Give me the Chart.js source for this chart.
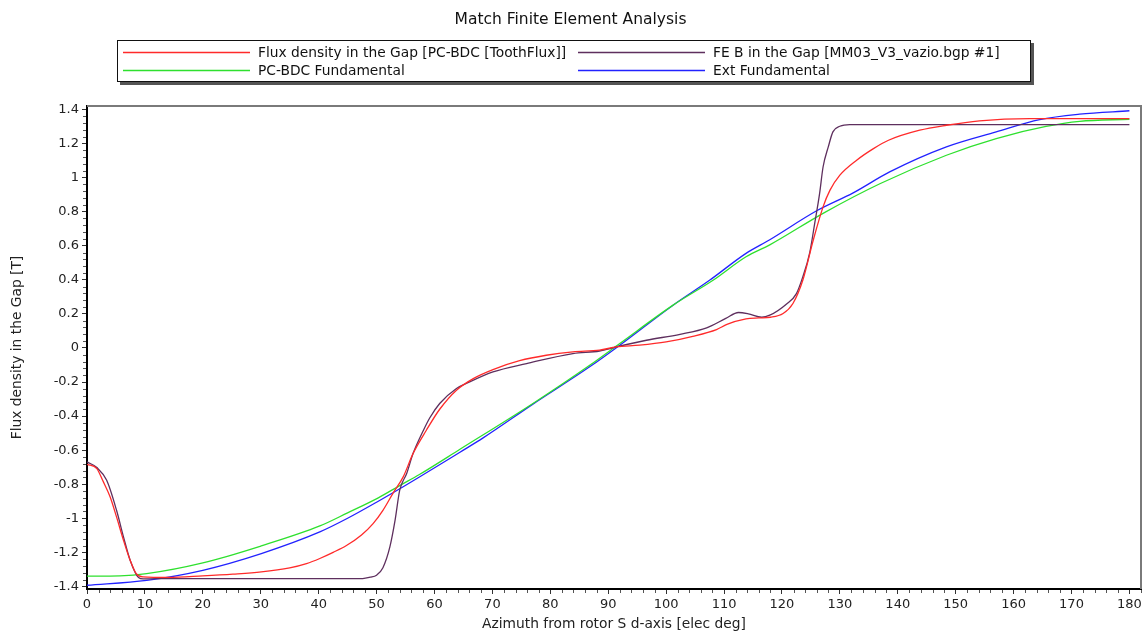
<!DOCTYPE html>
<html>
<head>
<meta charset="utf-8">
<title>Match Finite Element Analysis</title>
<script src="https://cdn.jsdelivr.net/npm/chart.js@4.4.1/dist/chart.umd.min.js"></script>
<style>
    html, body { margin: 0; padding: 0; background: #fff; }
    #fluxChart { display: block; }
</style>
</head>
<body>
<canvas id="fluxChart" width="1147" height="635"></canvas>
<script>
const xTicks = [0, 10, 20, 30, 40, 50, 60, 70, 80, 90, 100, 110, 120, 130, 140, 150, 160, 170, 180];
const yTicks = [-1.4, -1.2, -1, -0.8, -0.6, -0.4, -0.2, 0, 0.2, 0.4, 0.6, 0.8, 1, 1.2, 1.4];

const seriesLabels = [
    'Flux density in the Gap [PC-BDC [ToothFlux]]',
    'FE B in the Gap [MM03_V3_vazio.bgp #1]',
    'PC-BDC Fundamental',
    'Ext Fundamental',
];

// PC-BDC tooth flux model
const fluxAngle = [0, 1.7, 2.7, 4.0, 5.1, 6.3, 7.45, 8.5, 9.7, 14, 20, 25.2, 30.1, 35, 37.9, 40.2, 42.5, 44.8, 47.4, 49.4,
    51.1, 52.8, 54.6, 56.3, 58.6, 60.9, 63.8, 66.7, 70.1, 74.7, 79.3, 83.9, 88.5, 91.4, 95.4, 100, 104.6, 108.7, 110.5,
    113.8, 116, 118, 120.2, 121.9, 123.6, 125.4, 127.1, 128.3, 130, 132.9, 135.8, 138.4, 143.8, 148.4, 154.1, 162.8, 170, 180];
const fluxB = [-0.683, -0.708, -0.777, -0.875, -0.992, -1.129, -1.246, -1.325, -1.344, -1.347, -1.338, -1.328, -1.315, -1.291, -1.266, -1.236,
    -1.200, -1.160, -1.098, -1.031, -0.953, -0.855, -0.757, -0.620, -0.483, -0.360, -0.248, -0.180, -0.127, -0.075, -0.043, -0.023,
    -0.013, 0.006, 0.016, 0.035, 0.068, 0.108, 0.138, 0.170, 0.176, 0.180, 0.202, 0.261, 0.397, 0.632, 0.828, 0.926, 1.014, 1.102,
    1.170, 1.219, 1.278, 1.307, 1.333, 1.346, 1.346, 1.346];

// finite element result
const feAngle = [0, 1.7, 3.4, 5.1, 6.3, 7.45, 8.9, 9.7, 12, 47.6, 48.9, 50.0, 51.1, 52.3, 53.2, 54.0, 55.2, 56.3, 58.1, 59.2,
    60.9, 63.8, 65.5, 70.1, 75.9, 83.9, 88.5, 91.4, 96.6, 102.4, 107.0, 110.3, 112.5, 114.2, 116.5, 117.9, 120.8, 122.5,
    123.6, 124.8, 125.7, 126.5, 127.1, 128.0, 128.8, 130.0, 131.7, 180];
const feB = [-0.669, -0.702, -0.777, -0.953, -1.109, -1.246, -1.348, -1.356, -1.354, -1.354, -1.346, -1.334, -1.290, -1.168, -1.011,
    -0.835, -0.737, -0.620, -0.483, -0.410, -0.326, -0.238, -0.209, -0.141, -0.092, -0.033, -0.018, 0.006, 0.045, 0.080, 0.118,
    0.173, 0.208, 0.200, 0.180, 0.192, 0.258, 0.319, 0.417, 0.560, 0.740, 0.906, 1.062, 1.180, 1.268, 1.301, 1.311, 1.311];

// fundamentals
const pcAngle = [0, 5.7, 10.3, 20, 30.1, 40.2, 45, 50.3, 54.0, 57.4, 64.4, 77.0, 86.8, 92.0, 101.2, 108.1, 113.8, 117.9,
    127.1, 137.0, 148.4, 157.0, 165.6, 171.4, 180];
const pcFund = [-1.340, -1.338, -1.325, -1.262, -1.162, -1.045, -0.968, -0.880, -0.808, -0.743, -0.595, -0.326, -0.102, 0.026,
    0.251, 0.397, 0.535, 0.605, 0.790, 0.965, 1.131, 1.229, 1.300, 1.330, 1.342];

const extAngle = [0, 10.3, 20, 30.1, 40.2, 45, 50.3, 54.6, 57.4, 64.4, 68.4, 77.0, 86.8, 92.0, 101.2, 107.5, 113.8, 117.9,
    126.0, 132.3, 138.6, 148.4, 157.0, 164.5, 171.4, 180];
const extFund = [-1.393, -1.364, -1.305, -1.207, -1.080, -1.000, -0.900, -0.815, -0.758, -0.612, -0.528, -0.330, -0.111, 0.016,
    0.251, 0.397, 0.555, 0.635, 0.805, 0.910, 1.033, 1.180, 1.268, 1.340, 1.372, 1.392];

const seriesColors = ['#ff2a2a', '#5e2f5e', '#2ee02e', '#2222ff'];

const FONT = 'DejaVu Sans';

function toPoints(xs, ys) {
    return xs.map((x, i) => ({ x: x, y: ys[i] }));
}

// gray frame on the top and right of the plot
const plotFrame = {
    id: 'plotFrame',
    beforeDatasetsDraw(chart) {
        const { ctx, chartArea } = chart;
        ctx.save();
        ctx.strokeStyle = '#7a7a7a';
        ctx.lineWidth = 2;
        ctx.beginPath();
        ctx.moveTo(chartArea.left, chartArea.top);
        ctx.lineTo(chartArea.right, chartArea.top);
        ctx.lineTo(chartArea.right, chartArea.bottom);
        ctx.stroke();
        ctx.restore();
    }
};

// small ticks between the labelled ones
const minorTicks = {
    id: 'minorTicks',
    afterDraw(chart) {
        const { ctx, chartArea, scales } = chart;
        ctx.save();
        ctx.strokeStyle = '#555';
        ctx.lineWidth = 1;
        ctx.beginPath();
        for (let v = 2; v <= scales.x.max; v += 2) {
            if (v % 10 === 0) continue;
            const px = Math.round(scales.x.getPixelForValue(v)) + 0.5;
            ctx.moveTo(px, chartArea.bottom + 1);
            ctx.lineTo(px, chartArea.bottom + 4);
        }
        for (let k = -35; k <= 35; k++) {
            if (k % 5 === 0) continue;
            const py = Math.round(scales.y.getPixelForValue(k * 0.04)) + 0.5;
            ctx.moveTo(chartArea.left - 1, py);
            ctx.lineTo(chartArea.left - 4, py);
        }
        ctx.stroke();
        ctx.restore();
    }
};

// two column legend in a framed box with a drop shadow
const boxLegend = {
    id: 'boxLegend',
    afterDraw(chart) {
        const { ctx } = chart;
        const left = 117, top = 40, width = 914, height = 42;
        ctx.save();
        ctx.fillStyle = '#555';
        ctx.fillRect(left + 3, top + 3, width, height);
        ctx.fillStyle = '#fff';
        ctx.fillRect(left, top, width, height);
        ctx.strokeStyle = '#111';
        ctx.lineWidth = 1;
        ctx.strokeRect(left + 0.5, top + 0.5, width - 1, height - 1);

        ctx.font = '13.8px "' + FONT + '"';
        ctx.textBaseline = 'middle';
        ctx.fillStyle = '#111';
        chart.data.datasets.forEach((ds, i) => {
            const col = i % 2;
            const row = Math.floor(i / 2);
            const x0 = left + 6 + col * 455;
            const y = top + 12.5 + row * 18;
            ctx.strokeStyle = ds.borderColor;
            ctx.lineWidth = 1.5;
            ctx.beginPath();
            ctx.moveTo(x0, y);
            ctx.lineTo(x0 + 127, y);
            ctx.stroke();
            ctx.fillText(ds.label, x0 + 135, y + 1);
        });
        ctx.restore();
    }
};

const ctx = document.getElementById('fluxChart').getContext('2d');

new Chart(ctx, {
    type: 'line',
    data: {
        datasets: [
            { label: seriesLabels[0], data: toPoints(fluxAngle, fluxB), borderColor: seriesColors[0] },
            { label: seriesLabels[1], data: toPoints(feAngle, feB), borderColor: seriesColors[1] },
            { label: seriesLabels[2], data: toPoints(pcAngle, pcFund), borderColor: seriesColors[2] },
            { label: seriesLabels[3], data: toPoints(extAngle, extFund), borderColor: seriesColors[3] },
        ].map(ds => Object.assign(ds, {
            borderWidth: 1.3,
            pointRadius: 0,
            fill: false,
            cubicInterpolationMode: 'monotone',
        })),
    },
    options: {
        responsive: false,
        devicePixelRatio: 1,
        animation: false,
        layout: { padding: { right: 6 } },
        plugins: {
            legend: { display: false },
            tooltip: { enabled: false },
            title: {
                display: true,
                text: 'Match Finite Element Analysis',
                color: '#111',
                font: { family: FONT, size: 15.5, weight: 'normal' },
                padding: { top: 11, bottom: 76.4 },
            },
        },
        scales: {
            x: {
                type: 'linear',
                min: 0,
                max: 182,
                afterBuildTicks: (scale) => { scale.ticks = xTicks.map(v => ({ value: v })); },
                afterFit: (scale) => { scale.height = 46; },
                grid: { drawOnChartArea: false, tickLength: 5, tickColor: '#333' },
                border: { color: '#000', width: 2 },
                ticks: {
                    color: '#222',
                    padding: 3,
                    maxRotation: 0,
                    font: { family: FONT, size: 13 },
                    callback: (v) => String(v),
                },
                title: {
                    display: true,
                    text: 'Azimuth from rotor S d-axis [elec deg]',
                    color: '#222',
                    font: { family: FONT, size: 13.8 },
                    padding: { top: 0, bottom: 2 },
                },
            },
            y: {
                min: -1.415,
                max: 1.42,
                afterBuildTicks: (scale) => { scale.ticks = yTicks.map(v => ({ value: v })); },
                afterFit: (scale) => { scale.width = 87; },
                grid: { drawOnChartArea: false, tickLength: 5, tickColor: '#333' },
                border: { color: '#000', width: 2 },
                ticks: {
                    color: '#222',
                    padding: 3,
                    font: { family: FONT, size: 13 },
                    callback: (v) => String(Math.round(v * 10) / 10),
                },
                title: {
                    display: true,
                    text: 'Flux density in the Gap [T]',
                    color: '#222',
                    font: { family: FONT, size: 13.8 },
                    padding: { top: 9, bottom: 0 },
                },
            },
        },
    },
    plugins: [plotFrame, minorTicks, boxLegend],
});
</script>
</body>
</html>
